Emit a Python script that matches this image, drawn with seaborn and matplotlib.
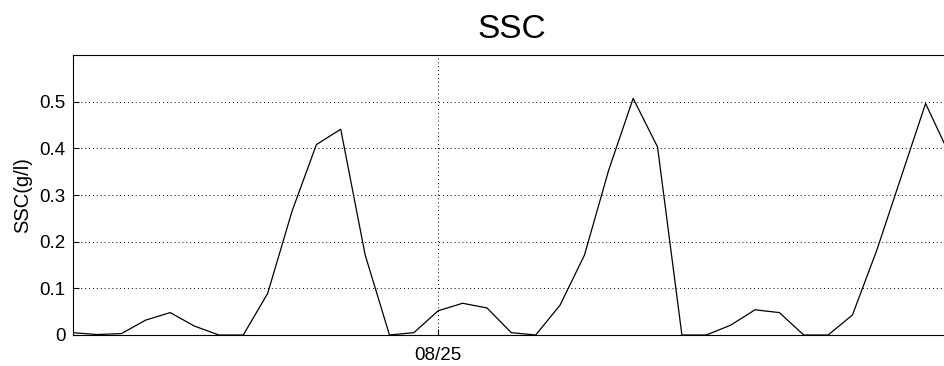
import numpy as np
import pandas as pd
import matplotlib
matplotlib.use("Agg")
import matplotlib.pyplot as plt
import matplotlib.dates as mdates
import seaborn as sns

# Hourly suspended sediment concentration record
start_time = "2008-08-24 09:00"
ssc_values = [
    0.005, 0.001, 0.003, 0.032, 0.048, 0.019, 0.000, 0.000, 0.089, 0.265,
    0.408, 0.441, 0.172, 0.000, 0.005, 0.052, 0.068, 0.058, 0.005, 0.000,
    0.064, 0.171, 0.354, 0.507, 0.403, 0.000, 0.000, 0.021, 0.054, 0.048,
    0.000, 0.000, 0.043, 0.182, 0.339, 0.496, 0.385,
]
y_ticks = [0, 0.1, 0.2, 0.3, 0.4, 0.5]
y_tick_labels = ["0", "0.1", "0.2", "0.3", "0.4", "0.5"]
x_tick_label_day = "2008-08-25"

times = pd.date_range(start_time, periods=len(ssc_values), freq="h")
df = pd.DataFrame({"time": times, "SSC": ssc_values})

sns.set_theme(style="white")
plt.rcParams["font.family"] = ["Liberation Sans", "DejaVu Sans"]

fig = plt.figure(figsize=(9.44, 3.66), dpi=100)
ax = fig.add_axes([0.077, 0.0847, 0.9293, 0.765])

sns.lineplot(data=df, x="time", y="SSC", ax=ax, color="black", linewidth=0.9)

ax.set_xlim(times[0], times[-1])
ax.set_ylim(0, 0.6)
ax.set_yticks(y_ticks)
ax.set_yticklabels(y_tick_labels)
ax.set_xticks([pd.Timestamp(x_tick_label_day)])
ax.xaxis.set_major_formatter(mdates.DateFormatter("%m/%d"))

ax.grid(True, linestyle=(0, (1, 3)), color="black", linewidth=0.7)
for side in ["left", "bottom", "top", "right"]:
    ax.spines[side].set_color("black")
    ax.spines[side].set_linewidth(0.8)

ax.tick_params(axis="both", direction="in", length=4, width=0.8,
               color="black", labelsize=13.5, labelcolor="black",
               left=True, bottom=True)
ax.tick_params(axis="y", pad=5)
ax.tick_params(axis="x", pad=9)

ax.set_xlabel("")
ax.set_ylabel("SSC(g/l)", fontsize=14.5, color="black")
ax.yaxis.set_label_coords(-0.0464, 0.5)
ax.set_title("SSC", fontsize=24, color="black", pad=12)

fig.savefig("out.png", dpi=100)
